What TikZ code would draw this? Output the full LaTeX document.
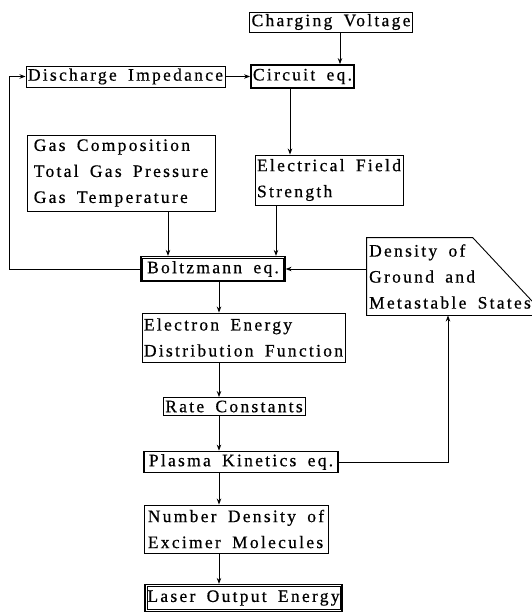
\documentclass[tikz,border=0pt]{standalone}
\usepackage{fontspec}
\setmainfont{Liberation Serif}[LetterSpace=13, WordSpace=1.7, FakeBold=0.6]
\usetikzlibrary{arrows.meta}
\begin{document}
\begin{tikzpicture}[x=1pt,y=-1pt, line width=0.9pt,
  box/.style={draw, inner xsep=2pt, inner ysep=0pt, align=left, font=\fontsize{17.5}{26}\selectfont},
  plain/.style={inner xsep=2pt, inner ysep=0pt, align=left, font=\fontsize{17.5}{26}\selectfont},
  heavy/.style={line width=1.8pt},
  inner/.style={line width=0.7pt},
  arr/.style={-{Stealth[length=6pt,width=4.5pt]}}]
\useasboundingbox (0,0) rectangle (531,615);
% column coordinates
\coordinate (cx1) at (340,0);
\coordinate (cx2) at (290,0);
\coordinate (cx3) at (168,0);
\coordinate (cx4) at (276,0);
\coordinate (mc) at (219,0);
\coordinate (cx5) at (448,0);
\coordinate (fb) at (9,269);
% nodes
\node[box, minimum width=156pt, minimum height=20pt] (cv) at (331,22) {Charging Voltage};
\node[box, minimum width=195pt, minimum height=21pt] (di) at (125.5,76.5) {Discharge Impedance};
\node[box, heavy, minimum width=101pt, minimum height=23pt] (ce) at (302.5,76.5) {Circuit eq.};
\node[box, minimum width=188pt, minimum height=76pt] (gas) at (121,173) {Gas Composition\\Total Gas Pressure\\Gas Temperature};
\node[box, minimum width=142pt, minimum height=50pt] (ef) at (329,180) {Electrical Field\\Strength};
\node[box, line width=1.2pt, minimum width=144pt, minimum height=25pt] (bz) at (213,269) {Boltzmann eq.};
\draw[inner] ([shift={(2pt,-2pt)}]bz.north west) rectangle ([shift={(-2pt,2pt)}]bz.south east);
\node[plain, minimum width=162pt, minimum height=77pt] (dens) at (450,276.5) {Density of\\Ground and\\Metastable States};
\draw (dens.south east) -- (dens.south west) -- (dens.north west) -- ([xshift=106pt]dens.north west) -- ([yshift=13pt]dens.south east);
\node[box, minimum width=201pt, minimum height=49pt] (eedf) at (243.5,337.5) {Electron Energy\\Distribution Function};
\node[box, minimum width=142pt, minimum height=18pt] (rc) at (234,406.5) {Rate Constants};
\node[box, heavy, minimum width=194pt, minimum height=21pt] (pk) at (241,462) {Plasma Kinetics eq.};
\node[box, minimum width=184pt, minimum height=48pt] (nd) at (236,529) {Number Density of\\Excimer Molecules};
\node[box, line width=1.2pt, minimum width=197pt, minimum height=27pt] (laser) at (243.5,598) {Laser Output Energy};
\draw[inner] ([shift={(2.5pt,-2.5pt)}]laser.north west) rectangle ([shift={(-2.5pt,2.5pt)}]laser.south east);
% connectors
\draw[arr] (cv.south -| cx1) -- (ce.north -| cx1);
\draw[arr] (di) -- (ce);
\draw[arr] (ce.south -| cx2) -- (ef.north -| cx2);
\draw[arr] (gas.south -| cx3) -- (bz.north -| cx3);
\draw[arr] (ef.south -| cx4) -- (bz.north -| cx4);
\draw[arr] (bz.west) -- (fb) |- (di.west);
\draw[arr] (bz.east -| dens.west) -- (bz.east);
\draw[arr] (bz.south -| mc) -- (eedf.north -| mc);
\draw[arr] (eedf.south -| mc) -- (rc.north -| mc);
\draw[arr] (rc.south -| mc) -- (pk.north -| mc);
\draw[arr] (pk.south -| mc) -- (nd.north -| mc);
\draw[arr] (nd.south -| mc) -- (laser.north -| mc);
\draw[arr] (pk.east) -| (dens.south -| cx5);
\end{tikzpicture}
\end{document}
